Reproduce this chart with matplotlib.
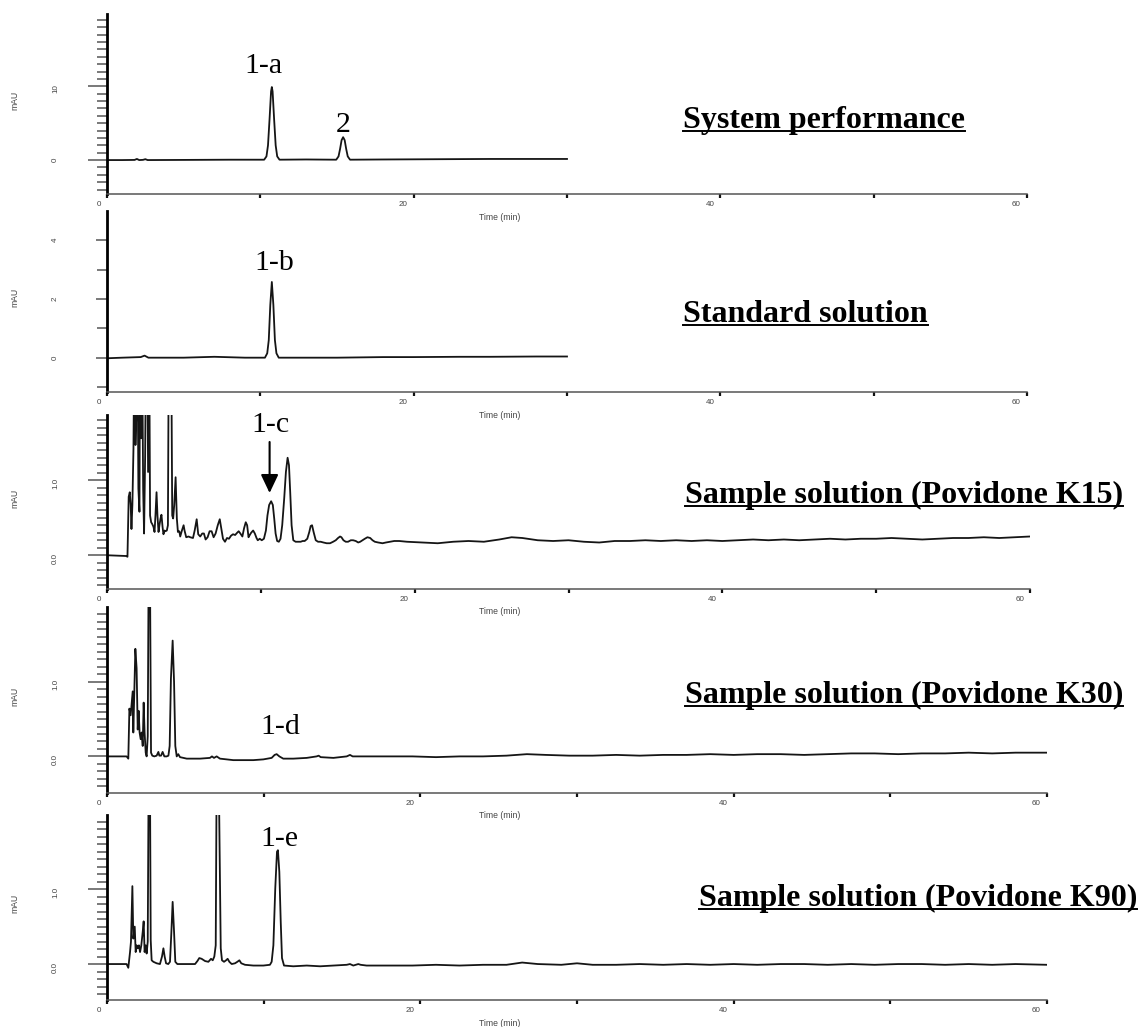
import matplotlib.pyplot as plt
from matplotlib.lines import Line2D
from matplotlib.transforms import ScaledTranslation

W, H = 1142, 1027
DPI = 100

# ---- chromatogram traces (time in min, signal in mAU)
sys_t = [0.0, 1.0, 1.8, 1.95, 2.1, 2.35, 2.5, 2.65, 5.0, 8.0,
         10.25, 10.4, 10.5, 10.6, 10.7, 10.75, 10.8, 10.9, 11.0, 11.1, 11.25,
         13.0, 14.95, 15.1, 15.2, 15.3, 15.4, 15.5, 15.6, 15.7, 15.85,
         18.0, 20.0, 25.0, 30.0]
sys_mau = [0.0, 0.0, 0.02, 0.15, 0.0, 0.03, 0.12, 0.0, 0.02, 0.05,
           0.05, 0.5, 2.0, 5.5, 9.3, 9.9, 9.3, 5.5, 2.0, 0.5, 0.05,
           0.08, 0.05, 0.5, 1.5, 2.7, 3.1, 2.7, 1.5, 0.5, 0.05,
           0.08, 0.1, 0.15, 0.15]

std_t = [0.0, 1.0, 2.2, 2.45, 2.7, 5.0, 7.0, 9.0,
         10.3, 10.45, 10.55, 10.65, 10.75, 10.85, 10.95, 11.05, 11.2,
         13.0, 15.0, 18.0, 20.0, 23.0, 25.0, 28.0, 30.0]
std_mau = [-0.02, 0.0, 0.02, 0.07, 0.0, 0.0, 0.03, 0.0,
           0.0, 0.15, 0.6, 1.8, 2.58, 1.8, 0.6, 0.15, 0.0,
           0.0, 0.0, 0.02, 0.02, 0.03, 0.03, 0.04, 0.04]

k15_t = [0.0, 1.24, 1.33, 1.41, 1.48, 1.54, 1.59, 1.65, 1.72, 1.78,
         1.85, 1.91, 1.98, 2.04, 2.11, 2.15, 2.22, 2.28, 2.35, 2.41,
         2.48, 2.54, 2.61, 2.67, 2.74, 2.80, 2.87, 2.93, 3.02, 3.09,
         3.15, 3.22, 3.28, 3.35, 3.41, 3.48, 3.54, 3.61, 3.67, 3.74,
         3.80, 3.89, 3.96, 4.02, 4.11, 4.17, 4.24, 4.30, 4.37, 4.46,
         4.54, 4.61, 4.70, 4.76, 4.87, 4.98, 5.04, 5.15, 5.30, 5.41,
         5.59, 5.70, 5.83, 5.93, 6.06, 6.19, 6.30, 6.41, 6.54, 6.67,
         6.80, 6.93, 7.06, 7.20, 7.33, 7.43, 7.54, 7.67, 7.80, 7.93,
         8.06, 8.19, 8.33, 8.46, 8.56, 8.67, 8.80, 8.91, 9.02, 9.11,
         9.20, 9.28, 9.37, 9.50, 9.61, 9.72, 9.80, 9.93, 10.06, 10.20,
         10.33, 10.43, 10.54, 10.67, 10.78, 10.87, 10.96, 11.06, 11.17, 11.28,
         11.39, 11.52, 11.63, 11.74, 11.83, 11.91, 12.00, 12.11, 12.26, 12.43,
         12.59, 12.72, 12.85, 13.02, 13.15, 13.24, 13.33, 13.43, 13.57, 13.72,
         13.89, 14.07, 14.28, 14.50, 14.70, 14.87, 15.02, 15.15, 15.24, 15.37,
         15.52, 15.67, 15.85, 16.00, 16.17, 16.33, 16.46, 16.61, 16.76, 16.93,
         17.11, 17.26, 17.41, 17.63, 17.91, 18.13, 18.41, 18.67, 19.00,
         19.5, 20.5, 21.5, 22.5, 23.5, 24.5, 25.5, 26.3, 27.0, 28.0,
         29.0, 30.0, 31.0, 32.0, 33.0, 34.0, 35.0, 36.0, 37.0, 38.0,
         39.0, 40.0, 41.0, 42.0, 43.0, 44.0, 45.0, 46.0, 47.0, 48.0,
         49.0, 50.0, 51.0, 52.0, 53.0, 54.0, 55.0, 56.0, 57.0, 58.0,
         59.0, 60.0]
k15_mau = [0.0, -0.01, -0.02, 0.78, 0.84, 0.67, 0.35, 0.67, 1.42, 3.0,
           1.47, 1.9, 3.0, 0.89, 0.58, 3.0, 1.56, 3.0, 0.89, 0.29,
           1.33, 3.0, 3.0, 1.11, 3.0, 0.53, 0.44, 0.42, 0.38, 0.31,
           0.53, 0.84, 0.53, 0.31, 0.40, 0.49, 0.54, 0.38, 0.28, 0.33,
           0.32, 0.33, 0.40, 3.0, 3.0, 3.0, 0.53, 0.49, 0.67, 1.04,
           0.49, 0.31, 0.32, 0.25, 0.33, 0.40, 0.33, 0.24, 0.25, 0.24,
           0.23, 0.33, 0.48, 0.28, 0.25, 0.29, 0.29, 0.21, 0.24, 0.32,
           0.32, 0.24, 0.29, 0.40, 0.48, 0.36, 0.22, 0.18, 0.23, 0.22,
           0.26, 0.28, 0.27, 0.30, 0.32, 0.29, 0.25, 0.36, 0.44, 0.40,
           0.24, 0.27, 0.30, 0.33, 0.29, 0.23, 0.20, 0.22, 0.20, 0.22,
           0.33, 0.53, 0.67, 0.72, 0.67, 0.49, 0.29, 0.19, 0.18, 0.22,
           0.40, 0.76, 1.11, 1.30, 1.20, 0.84, 0.40, 0.20, 0.18, 0.18,
           0.18, 0.19, 0.19, 0.22, 0.31, 0.39, 0.40, 0.31, 0.20, 0.18,
           0.18, 0.17, 0.16, 0.16, 0.18, 0.20, 0.23, 0.25, 0.24, 0.20,
           0.18, 0.18, 0.20, 0.20, 0.19, 0.17, 0.18, 0.20, 0.22, 0.24,
           0.23, 0.20, 0.18, 0.17, 0.16, 0.17, 0.18, 0.19, 0.19,
           0.18, 0.17, 0.16, 0.18, 0.19, 0.18, 0.21, 0.24, 0.23, 0.20,
           0.19, 0.20, 0.18, 0.17, 0.19, 0.19, 0.20, 0.19, 0.20, 0.19,
           0.20, 0.19, 0.20, 0.21, 0.20, 0.21, 0.20, 0.21, 0.22, 0.21,
           0.22, 0.22, 0.23, 0.22, 0.21, 0.22, 0.23, 0.23, 0.24, 0.23,
           0.24, 0.25]

k30_t = [0.0, 1.25, 1.36, 1.43, 1.51, 1.64, 1.68, 1.81, 1.89, 1.96,
         2.02, 2.08, 2.15, 2.21, 2.28, 2.34, 2.40, 2.47, 2.53, 2.60,
         2.66, 2.74, 2.81, 2.89, 3.02, 3.17, 3.28, 3.34, 3.45, 3.55,
         3.66, 3.81, 3.92, 4.00, 4.08, 4.19, 4.28, 4.36, 4.45, 4.55,
         4.66, 5.09, 5.94, 6.57, 6.70, 6.83, 7.00, 7.21, 7.64, 8.06,
         8.70, 9.34, 9.98, 10.51, 10.70, 10.83, 11.00, 11.25, 11.89, 12.75,
         13.38, 13.51, 13.64, 14.45, 15.30, 15.51, 15.68, 16.57, 17.64, 18.70,
         19.5, 21.0, 22.5, 24.0, 25.5, 26.8, 28.0, 29.5, 31.0, 32.5,
         34.0, 35.5, 37.0, 38.5, 40.0, 41.5, 43.0, 44.5, 46.0, 47.5,
         49.0, 50.5, 52.0, 53.5, 55.0, 56.5, 58.0, 60.0]
k30_mau = [0.0, 0.0, -0.03, 0.64, 0.55, 0.87, 0.32, 1.44, 1.18, 0.36,
           0.61, 0.32, 0.23, 0.32, 0.14, 0.72, 0.32, 0.05, 0.0, 0.27,
           2.6, 2.6, 0.05, 0.01, 0.0, 0.01, 0.06, 0.01, 0.01, 0.06,
           0.0, 0.0, 0.01, 0.14, 1.04, 1.55, 1.00, 0.14, 0.0, 0.03,
           -0.01, -0.03, -0.03, -0.02, 0.0, -0.02, 0.0, -0.03, -0.04, -0.05,
           -0.05, -0.05, -0.04, -0.02, 0.02, 0.03, 0.0, -0.03, -0.03, -0.02,
           0.0, 0.01, -0.01, -0.02, 0.0, 0.02, 0.0, 0.0, 0.0, 0.0,
           0.0, -0.01, 0.0, 0.0, 0.01, 0.03, 0.02, 0.01, 0.01, 0.02,
           0.01, 0.02, 0.02, 0.03, 0.02, 0.03, 0.03, 0.02, 0.03, 0.04,
           0.04, 0.03, 0.04, 0.04, 0.05, 0.04, 0.05, 0.05]

k90_t = [0.0, 1.25, 1.36, 1.47, 1.53, 1.62, 1.68, 1.77, 1.83, 1.89,
         1.96, 2.04, 2.11, 2.19, 2.28, 2.34, 2.40, 2.47, 2.53, 2.60,
         2.66, 2.74, 2.79, 2.85, 2.96, 3.17, 3.38, 3.51, 3.60, 3.68,
         3.77, 3.91, 4.02, 4.11, 4.19, 4.28, 4.36, 4.49, 4.87, 5.30,
         5.62, 5.77, 5.89, 6.04, 6.26, 6.47, 6.64, 6.75, 6.85, 6.94,
         7.00, 7.13, 7.26, 7.34, 7.47, 7.60, 7.70, 7.81, 7.96, 8.17,
         8.32, 8.45, 8.57, 8.81, 9.34, 9.98, 10.40, 10.51, 10.62, 10.74,
         10.85, 10.91, 11.00, 11.09, 11.17, 11.30, 11.89, 12.75, 13.60, 14.45,
         15.30, 15.51, 15.72, 16.04, 16.19, 16.57, 17.64, 18.70,
         19.5, 21.0, 22.5, 24.0, 25.5, 26.5, 27.5, 29.0, 30.0, 31.0,
         32.5, 34.0, 35.5, 37.0, 38.5, 40.0, 41.5, 43.0, 44.5, 46.0,
         47.5, 49.0, 50.5, 52.0, 53.5, 55.0, 56.5, 58.0, 60.0]
k90_mau = [0.0, 0.0, -0.05, 0.16, 0.30, 1.04, 0.34, 0.50, 0.16, 0.25,
           0.21, 0.25, 0.16, 0.25, 0.43, 0.57, 0.16, 0.25, 0.14, 0.30,
           2.6, 2.6, 0.32, 0.05, 0.03, 0.01, 0.0, 0.10, 0.21, 0.10,
           0.01, 0.0, 0.03, 0.43, 0.83, 0.43, 0.03, 0.0, 0.0, 0.0,
           0.0, 0.04, 0.08, 0.07, 0.04, 0.03, 0.07, 0.05, 0.10, 0.25,
           2.6, 2.6, 0.21, 0.05, 0.03, 0.05, 0.07, 0.03, 0.0, 0.01,
           0.03, 0.05, 0.01, -0.01, -0.02, -0.02, -0.01, 0.03, 0.25, 1.01,
           1.50, 1.52, 1.23, 0.56, 0.08, -0.02, -0.03, -0.02, -0.03, -0.02,
           -0.01, 0.0, -0.02, 0.0, -0.01, -0.02, -0.02, -0.02,
           -0.02, -0.01, -0.02, -0.01, -0.01, 0.02, 0.0, -0.01, 0.01, -0.01,
           -0.01, 0.0, -0.01, 0.0, -0.01, 0.0, -0.01, 0.0, 0.0, -0.01,
           0.0, -0.01, 0.0, 0.0, -0.01, 0.0, -0.01, 0.0, -0.01]

titles = ['System performance', 'Standard solution',
          'Sample solution (Povidone K15)', 'Sample solution (Povidone K30)',
          'Sample solution (Povidone K90)']
peak_names = ['1-a', '2', '1-b', '1-c', '1-d', '1-e']

plt.rcParams['font.family'] = ['Liberation Sans', 'DejaVu Sans']
SERIF = ['Liberation Serif', 'DejaVu Serif']
GREY = '#444444'

fig = plt.figure(figsize=(W / DPI, H / DPI), dpi=DPI)


def pt(pixels):
    return pixels * 72.0 / DPI


def make_panel(box, t, mau, ylim, major, major_labels, minor, major_len):
    left, top, right, bottom = box
    ax = fig.add_axes([left / W, 1 - bottom / H, (right - left) / W, (bottom - top) / H])
    ax.patch.set_visible(False)
    ax.plot(t, mau, color='#151515', lw=1.3)
    ax.set_xlim(0, 60)
    ax.set_ylim(*ylim)
    ax.spines['top'].set_visible(False)
    ax.spines['right'].set_visible(False)
    ax.spines['left'].set_linewidth(2.0)
    ax.spines['left'].set_color('black')
    ax.spines['bottom'].set_linewidth(1.1)
    ax.spines['bottom'].set_color('#555555')

    ax.set_xticks(range(0, 61, 10))
    ax.set_xticklabels(['0', '', '20', '', '40', '', '60'])
    ax.tick_params(axis='x', direction='out', length=pt(4), width=1.6, color='#111111',
                   pad=pt(3), labelsize=5.8, labelcolor=GREY)
    shift = ScaledTranslation(-6 / DPI, 0, fig.dpi_scale_trans)
    for lab in ax.get_xticklabels():
        lab.set_ha('right')
        lab.set_transform(lab.get_transform() + shift)

    ax.set_yticks(major)
    ax.set_yticklabels(major_labels)
    ax.set_yticks(minor, minor=True)
    ax.tick_params(axis='y', which='major', direction='out', length=pt(major_len), width=1.1,
                   color='#555555', pad=pt(48 - major_len), labelsize=5.8,
                   labelcolor=GREY, labelrotation=90)
    ax.tick_params(axis='y', which='minor', direction='out', length=pt(10), width=1.1,
                   color='#555555')

    fig.text(15 / W, 1 - ((top + bottom) / 2 - 4) / H, 'mAU', rotation=90,
             ha='center', va='center', fontsize=6.2, color=GREY)
    fig.text(500 / W, 1 - (bottom + 23) / H, 'Time (min)', ha='center', va='center',
             fontsize=6.2, color=GREY)
    return ax


ax1 = make_panel((107, 14, 1027, 194), sys_t, sys_mau, (-4.6, 19.8),
                 [0, 10], ['0', '10'], [v for v in range(-4, 20) if v % 10], 19)
ax2 = make_panel((107, 211, 1027, 392), std_t, std_mau, (-1.17, 5.0),
                 [0, 2, 4], ['0', '2', '4'], [-1, 1, 3], 11)
ax3 = make_panel((107, 415, 1030, 589), k15_t, k15_mau, (-0.45, 1.87),
                 [0, 1], ['0.0', '1.0'], [i / 10 for i in range(-4, 19) if i % 10], 19)
ax4 = make_panel((107, 607, 1047, 793), k30_t, k30_mau, (-0.49, 2.0),
                 [0, 1], ['0.0', '1.0'], [i / 10 for i in range(-4, 20) if i % 10], 19)
ax5 = make_panel((107, 815, 1047, 1000), k90_t, k90_mau, (-0.48, 1.99),
                 [0, 1], ['0.0', '1.0'], [i / 10 for i in range(-4, 20) if i % 10], 19)

# peak labels
label_spots = [(ax1, 10.2, 11.8), (ax1, 15.4, 3.8), (ax2, 10.9, 3.0),
               (ax3, 10.63, 1.65), (ax4, 11.04, 0.30), (ax5, 10.98, 1.57)]
for name, (ax, x, y) in zip(peak_names, label_spots):
    ax.text(x, y, name, ha='center', va='baseline', fontsize=21.5, family=SERIF)

ax3.annotate('', xy=(10.57, 0.83), xytext=(10.57, 1.51),
             arrowprops=dict(arrowstyle='-|>,head_length=0.8,head_width=0.38',
                             mutation_scale=14, color='black', lw=1.5,
                             shrinkA=0, shrinkB=0))

# underlined panel titles
title_pos = [(683, 128), (683, 322), (685, 503), (685, 703), (699, 906)]
title_texts = []
for title, (x, y) in zip(titles, title_pos):
    tx = fig.text(x / W, 1 - y / H, title, ha='left', va='baseline', fontsize=23,
                  fontweight='bold', family=SERIF)
    title_texts.append((tx, y))

fig.canvas.draw()
renderer = fig.canvas.get_renderer()
for tx, y in title_texts:
    bb = tx.get_window_extent(renderer)
    yy = 1 - (y + 3) / H
    fig.add_artist(Line2D([bb.x0 / W, bb.x1 / W], [yy, yy], color='black', lw=1.4,
                          transform=fig.transFigure))

fig.savefig('out.png', dpi=DPI)
